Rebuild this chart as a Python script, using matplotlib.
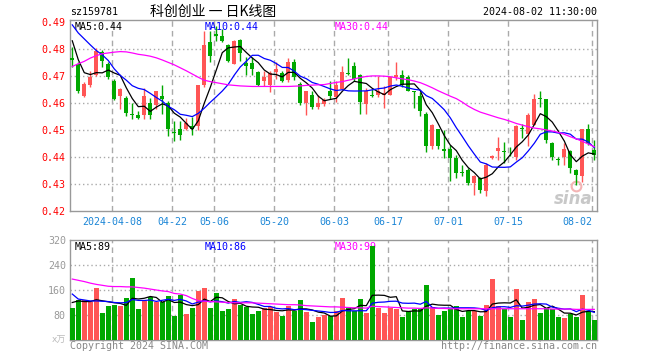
import numpy as np
import pandas as pd
import matplotlib
matplotlib.use('Agg')
import matplotlib.pyplot as plt
import matplotlib.transforms as mtrans

plt.rcParams['font.family'] = ['DejaVu Sans Mono', 'Noto Sans CJK SC']

# 交易日 2024-03-26 ~ 2024-08-02
holidays = ['2024-04-04', '2024-04-05', '2024-05-01', '2024-05-02', '2024-05-03', '2024-06-10']
dates = pd.bdate_range('2024-03-26', '2024-08-02')
dates = dates[~dates.isin(pd.to_datetime(holidays))]

open_ = [0.4766, 0.4745, 0.4624, 0.4665, 0.4704, 0.4788, 0.4745, 0.4683, 0.4624, 0.4619,
         0.4556, 0.4554, 0.4556, 0.4601, 0.4591, 0.4624, 0.4601, 0.4493, 0.4502, 0.4502,
         0.4513, 0.4515, 0.4665, 0.4827, 0.4855, 0.4847, 0.4816, 0.4745, 0.4834, 0.4747,
         0.4747, 0.4714, 0.4683, 0.4665, 0.4714, 0.4711, 0.4686, 0.4753, 0.4671, 0.4601,
         0.4631, 0.4585, 0.4595, 0.4643, 0.4623, 0.4652, 0.4711, 0.4735, 0.4704, 0.4597,
         0.4631, 0.4630, 0.4628, 0.4630, 0.4695, 0.4704, 0.4695, 0.4643, 0.4624, 0.4560,
         0.4441, 0.4502, 0.4431, 0.4431, 0.4397, 0.4343, 0.4353, 0.4304, 0.4322, 0.4273,
         0.4395, 0.4423, 0.4422, 0.4415, 0.4400, 0.4505, 0.4486, 0.4520, 0.4616, 0.4613,
         0.4450, 0.4392, 0.4400, 0.4421, 0.4351, 0.4330, 0.4502, 0.4425]
high = [0.4806, 0.4750, 0.4677, 0.4720, 0.4804, 0.4795, 0.4753, 0.4689, 0.4655, 0.4625,
        0.4601, 0.4572, 0.4655, 0.4618, 0.4646, 0.4665, 0.4606, 0.4532, 0.4532, 0.4544,
        0.4548, 0.4668, 0.4868, 0.4868, 0.4886, 0.4874, 0.4818, 0.4834, 0.4837, 0.4769,
        0.4769, 0.4720, 0.4720, 0.4717, 0.4751, 0.4720, 0.4766, 0.4763, 0.4677, 0.4646,
        0.4646, 0.4628, 0.4618, 0.4683, 0.4683, 0.4736, 0.4766, 0.4751, 0.4708, 0.4655,
        0.4650, 0.4700, 0.4661, 0.4700, 0.4753, 0.4723, 0.4704, 0.4645, 0.4640, 0.4566,
        0.4523, 0.4505, 0.4499, 0.4443, 0.4406, 0.4372, 0.4359, 0.4335, 0.4326, 0.4376,
        0.4408, 0.4475, 0.4457, 0.4437, 0.4520, 0.4523, 0.4563, 0.4634, 0.4646, 0.4616,
        0.4456, 0.4400, 0.4450, 0.4425, 0.4357, 0.4505, 0.4523, 0.4462]
low = [0.4732, 0.4638, 0.4622, 0.4659, 0.4701, 0.4732, 0.4689, 0.4610, 0.4579, 0.4552,
       0.4542, 0.4539, 0.4541, 0.4541, 0.4579, 0.4559, 0.4478, 0.4458, 0.4462, 0.4498,
       0.4480, 0.4498, 0.4659, 0.4751, 0.4831, 0.4825, 0.4751, 0.4745, 0.4754, 0.4702,
       0.4702, 0.4662, 0.4664, 0.4640, 0.4689, 0.4677, 0.4677, 0.4686, 0.4591, 0.4554,
       0.4579, 0.4579, 0.4590, 0.4616, 0.4603, 0.4650, 0.4702, 0.4683, 0.4560, 0.4560,
       0.4621, 0.4621, 0.4581, 0.4628, 0.4686, 0.4659, 0.4643, 0.4580, 0.4553, 0.4419,
       0.4431, 0.4431, 0.4397, 0.4311, 0.4321, 0.4328, 0.4298, 0.4258, 0.4267, 0.4257,
       0.4392, 0.4389, 0.4377, 0.4403, 0.4389, 0.4470, 0.4440, 0.4517, 0.4585, 0.4450,
       0.4388, 0.4370, 0.4370, 0.4339, 0.4298, 0.4308, 0.4446, 0.4388]
close = [0.4758, 0.4643, 0.4671, 0.4695, 0.4794, 0.4754, 0.4695, 0.4616, 0.4652, 0.4564,
         0.4554, 0.4545, 0.4624, 0.4556, 0.4643, 0.4616, 0.4505, 0.4490, 0.4483, 0.4527,
         0.4505, 0.4665, 0.4816, 0.4775, 0.4847, 0.4828, 0.4754, 0.4831, 0.4785, 0.4736,
         0.4726, 0.4667, 0.4695, 0.4711, 0.4726, 0.4683, 0.4751, 0.4695, 0.4601, 0.4643,
         0.4585, 0.4601, 0.4611, 0.4624, 0.4665, 0.4714, 0.4708, 0.4689, 0.4603, 0.4646,
         0.4624, 0.4643, 0.4637, 0.4695, 0.4704, 0.4667, 0.4646, 0.4640, 0.4572, 0.4441,
         0.4520, 0.4440, 0.4422, 0.4397, 0.4339, 0.4340, 0.4304, 0.4331, 0.4279, 0.4372,
         0.4404, 0.4432, 0.4419, 0.4413, 0.4516, 0.4502, 0.4557, 0.4613, 0.4613, 0.4462,
         0.4400, 0.4389, 0.4431, 0.4360, 0.4333, 0.4502, 0.4450, 0.4409]
# 成交量(万)
volume = [101, 127, 128, 121, 167, 85, 110, 113, 110, 136,
          199, 98, 125, 138, 121, 121, 142, 78, 144, 82,
          104, 158, 167, 104, 152, 94, 98, 132, 111, 105,
          82, 94, 101, 105, 91, 76, 110, 94, 128, 90,
          59, 75, 80, 78, 94, 136, 101, 92, 132, 88,
          302, 104, 88, 101, 98, 75, 94, 98, 98, 177,
          107, 80, 94, 98, 110, 75, 94, 94, 78, 113,
          196, 110, 98, 75, 164, 63, 123, 132, 85, 104,
          98, 75, 69, 83, 75, 143, 89, 64]

# 均线: 窗口外的数据看不到, 开头几个点和MA30直接读图
ma5_head = [0.4830, 0.4760, 0.4712, 0.4705]
ma10_head = [0.4889, 0.4859, 0.4837, 0.4815, 0.4794, 0.4778, 0.4757, 0.4726, 0.4702]
ma30 = [0.4735, 0.4745, 0.4754, 0.4766, 0.4775, 0.4782, 0.4785, 0.4788, 0.4790, 0.4789,
        0.4785, 0.4780, 0.4777, 0.4773, 0.4767, 0.4759, 0.4750, 0.4741, 0.4730, 0.4719,
        0.4707, 0.4695, 0.4684, 0.4679, 0.4675, 0.4671, 0.4667, 0.4665, 0.4663, 0.4662,
        0.4661, 0.4661, 0.4661, 0.4661, 0.4661, 0.4661, 0.4661, 0.4662, 0.4663, 0.4665,
        0.4666, 0.4667, 0.4668, 0.4672, 0.4676, 0.4679, 0.4684, 0.4689, 0.4694, 0.4698,
        0.4700, 0.4700, 0.4699, 0.4697, 0.4693, 0.4689, 0.4686, 0.4681, 0.4675, 0.4666,
        0.4656, 0.4645, 0.4635, 0.4625, 0.4616, 0.4603, 0.4588, 0.4576, 0.4566, 0.4559,
        0.4552, 0.4545, 0.4539, 0.4532, 0.4524, 0.4518, 0.4512, 0.4507, 0.4504, 0.4500,
        0.4496, 0.4491, 0.4484, 0.4475, 0.4467, 0.4458, 0.4448, 0.4438]
vma5_head = [120, 125, 123, 123]
vma10_head = [147, 131, 128, 125, 125, 124, 123, 120, 119]
vma30 = [195, 191, 187, 182, 178, 175, 172, 171, 171, 170,
         170, 168, 166, 163, 160, 157, 155, 149, 147, 142,
         133, 126, 124, 123, 122, 121, 120, 119, 119, 119,
         119, 118, 117, 116, 115, 114, 113, 113, 112, 110,
         109, 108, 107, 106, 106, 105, 104, 103, 103, 102,
         108, 107, 106, 105, 104, 103, 102, 102, 101, 103,
         102, 101, 101, 100, 100, 100, 100, 100, 100, 100,
         100, 100, 100, 100, 100, 100, 100, 100, 100, 100,
         99, 99, 99, 99, 98, 98, 98, 98]

tick_dates = ['2024-04-08', '2024-04-22', '2024-05-06', '2024-05-20', '2024-06-03',
              '2024-06-17', '2024-07-01', '2024-07-15', '2024-08-02']
tick_labels = ['2024-04-08', '04-22', '05-06', '05-20', '06-03', '06-17', '07-01', '07-15', '08-02']

RED = '#ff5555'
GREEN = '#00a800'
GRID = '#aaaaaa'

x = np.arange(len(dates))
o = np.array(open_); c = np.array(close); h = np.array(high); l = np.array(low)
up = c >= o
colors = np.where(up, RED, GREEN)

def ma(values, n, head):
    s = pd.Series(values, dtype=float).rolling(n).mean().values
    s[:len(head)] = head
    return s

ma5 = ma(close, 5, ma5_head)
ma10 = ma(close, 10, ma10_head)
vma5 = ma(volume, 5, vma5_head)
vma10 = ma(volume, 10, vma10_head)

fig = plt.figure(figsize=(6.6, 3.6), dpi=100)
ax = fig.add_axes([70/660, 1-211/360, 527/660, 191/360])
ax2 = fig.add_axes([70/660, 1-340/360, 527/660, 100/360])

grid_x = [dates.get_loc(pd.Timestamp(d)) - 0.33 for d in tick_dates]
xlim = (-0.38, 87.45)

for a in (ax, ax2):
    for gx in grid_x:
        a.axvline(gx, color=GRID, lw=1, ls=(0, (4, 3)), zorder=0)
    for sp in a.spines.values():
        sp.set_color('#999999')
        sp.set_linewidth(1)
    a.set_xlim(*xlim)

# K线
ax.vlines(x, l, h, colors=colors, lw=1, zorder=3)
body = np.maximum(np.abs(c - o), 0.00035)
ax.bar(x, body, bottom=np.minimum(o, c), width=0.68, color=colors, zorder=3)
ax.plot(x, ma5, color='black', lw=0.9, zorder=4)
ax.plot(x, ma10, color='#0000ff', lw=0.9, zorder=4)
ax.plot(x, ma30, color='#ff00ff', lw=0.9, zorder=4)

ax.set_ylim(0.42, 0.4907)
yt = [0.42, 0.43, 0.44, 0.45, 0.46, 0.47, 0.48, 0.49]
for yv in yt[1:-1]:
    ax.axhline(yv, color=GRID, lw=1, ls=(0, (1, 2)), zorder=0)
ax.set_yticks(yt)
ax.set_yticklabels(['%.2f' % v for v in yt])
ax.tick_params(axis='y', length=0, pad=3.5, labelcolor='#ff0000', labelsize=7.2)
ax.set_xticks(grid_x)
ax.set_xticklabels(tick_labels)
ax.tick_params(axis='x', length=0, pad=4.5, labelcolor='#1a85d6', labelsize=7.2)
ax.get_xticklabels()[-1].set_ha('right')

ax.text(5/527, 1-2/191, 'MA5:0.44', transform=ax.transAxes, va='top', fontsize=7.2, color='black')
ax.text(135/527, 1-2/191, 'MA10:0.44', transform=ax.transAxes, va='top', fontsize=7.2, color='#0000ff')
ax.text(265/527, 1-2/191, 'MA30:0.44', transform=ax.transAxes, va='top', fontsize=7.2, color='#ff00ff')
ax.text(0.955, 0.065, 'sina', transform=ax.transAxes, ha='center', va='center', fontsize=12,
        fontweight='bold', style='italic', color='#c8c8c8', family='DejaVu Sans', zorder=2)
ax.plot([0.96], [0.13], transform=ax.transAxes, marker='o', ms=7, mfc='none', mec='#f4b4b4', mew=1.5, zorder=2)

# 成交量
ax2.bar(x, volume, width=0.82, color=colors, zorder=3)
ax2.plot(x, vma5, color='black', lw=0.9, zorder=4)
ax2.plot(x, vma10, color='#0000ff', lw=0.9, zorder=4)
ax2.plot(x, vma30, color='#ff00ff', lw=0.9, zorder=4)
ax2.set_ylim(0, 320)
for yv in [80, 160, 240]:
    ax2.axhline(yv, color=GRID, lw=1, ls=(0, (1, 2)), zorder=0)
ax2.set_yticks([80, 160, 240, 320])
ax2.set_yticklabels(['80', '160', '240', '320'])
ax2.tick_params(axis='y', length=0, pad=3, labelcolor='#999999', labelsize=7.2)
ax2.set_xticks([])
tr = mtrans.blended_transform_factory(ax2.transAxes, ax2.transData)
ax2.text(-0.008, -2, 'x万', transform=tr, ha='right', va='center', fontsize=6.5, color='#bbbbbb',
         family=['DejaVu Sans', 'Noto Sans CJK SC'])
ax2.text(5/527, 1-7/100, 'MA5:89', transform=ax2.transAxes, va='center', fontsize=7.2, color='black', zorder=1)
ax2.text(135/527, 1-7/100, 'MA10:86', transform=ax2.transAxes, va='center', fontsize=7.2, color='#0000ff', zorder=1)
ax2.text(265/527, 1-7/100, 'MA30:99', transform=ax2.transAxes, va='center', fontsize=7.2, color='#ff00ff', zorder=1)

# 标题 / 页脚
fig.text(70/660, 1-12/360, 'sz159781', va='center', fontsize=7.2, color='black')
fig.text(213/660, 1-12/360, '科创创业 一 日K线图', ha='center', va='center', fontsize=10,
         color='black', family=['Noto Sans CJK SC', 'DejaVu Sans'])
fig.text(597/660, 1-12/360, '2024-08-02 11:30:00', ha='right', va='center', fontsize=7.2, color='black')
fig.text(70/660, 1-346/360, 'Copyright 2024 SINA.COM', va='center', fontsize=7.2, color='#888888')
fig.text(597/660, 1-346/360, 'http://finance.sina.com.cn', ha='right', va='center', fontsize=7.2, color='#888888')

fig.savefig('out.png', dpi=100)
